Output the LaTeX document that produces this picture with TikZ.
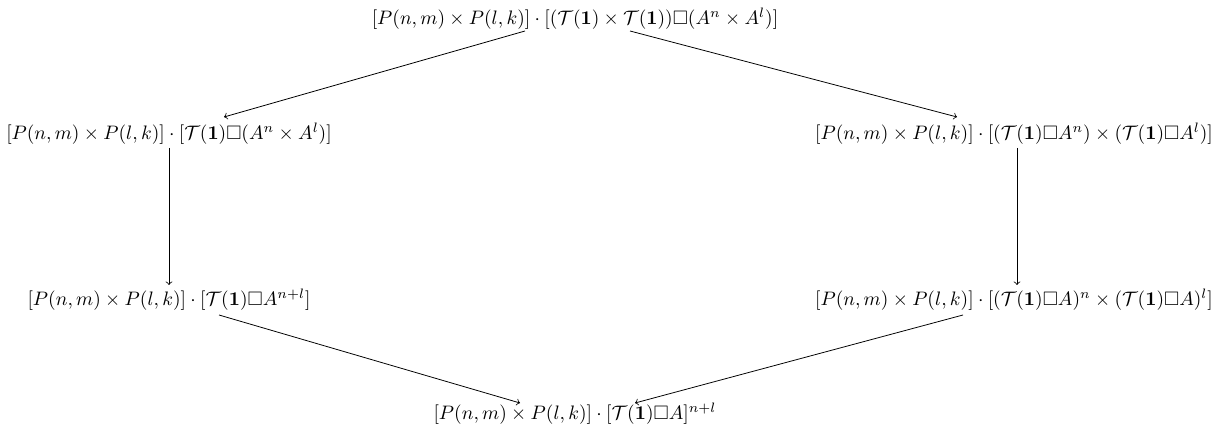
\documentclass[tikz,border=0pt]{standalone}
\usepackage{amsmath,amssymb}
\usetikzlibrary{calc}
\begin{document}
\begin{tikzpicture}[x=0.5128pt,y=-0.5128pt,
  term/.style={inner sep=0pt,anchor=base},
  map/.style={->,line width=0.4pt}]
\useasboundingbox (0,0) rectangle (1217,433);
\node[term] (top) at (575,25) {$[P(n,m)\times P(l,k)]\cdot[(\mathcal{T}(\mathbf{1})\times\mathcal{T}(\mathbf{1}))\square(A^n\times A^l)]$};
\node[term] (lm) at (169,140) {$[P(n,m)\times P(l,k)]\cdot[\mathcal{T}(\mathbf{1})\square(A^n\times A^l)]$};
\node[term] (rm) at (1014,140) {$[P(n,m)\times P(l,k)]\cdot[(\mathcal{T}(\mathbf{1})\square A^n)\times(\mathcal{T}(\mathbf{1})\square A^l)]$};
\node[term] (ll) at (169,306) {$[P(n,m)\times P(l,k)]\cdot[\mathcal{T}(\mathbf{1})\square A^{n+l}]$};
\node[term] (rl) at (1014,306) {$[P(n,m)\times P(l,k)]\cdot[(\mathcal{T}(\mathbf{1})\square A)^n\times(\mathcal{T}(\mathbf{1})\square A)^l]$};
\node[term] (bot) at (575,420) {$[P(n,m)\times P(l,k)]\cdot[\mathcal{T}(\mathbf{1})\square A]^{n+l}$};
\draw[map] ($(top.base)+(-50,6)$) -- ($(lm.base)+(55,-23)$);
\draw[map] ($(top.base)+(55,6)$) -- ($(rm.base)+(-57,-23)$);
\draw[map] ($(lm.base)+(0,8)$) -- ($(ll.base)+(0,-21)$);
\draw[map] ($(rm.base)+(3,8)$) -- ($(rl.base)+(3,-21)$);
\draw[map] ($(ll.base)+(50,9)$) -- ($(bot.base)+(-55,-17)$);
\draw[map] ($(rl.base)+(-51,9)$) -- ($(bot.base)+(60,-17)$);
\end{tikzpicture}
\end{document}
